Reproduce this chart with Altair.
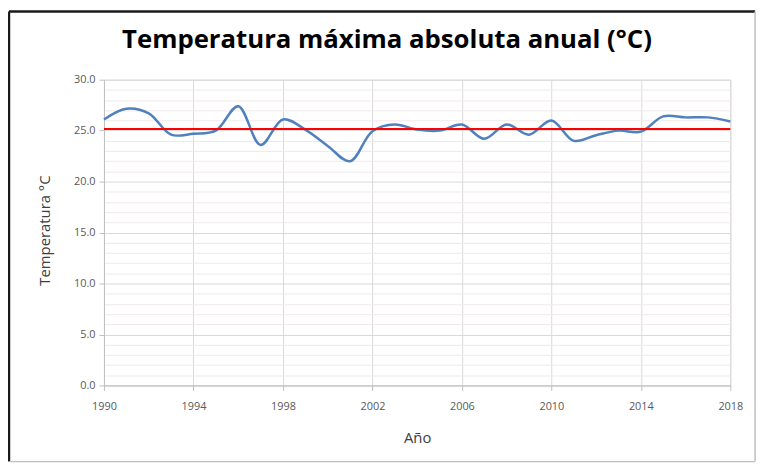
import altair as alt
import pandas as pd

years = list(range(1990, 2019))
temps = [26.1, 27.15, 26.7, 24.6, 24.7, 25.0, 27.4, 23.6, 26.1, 25.1,
         23.5, 22.0, 24.95, 25.6, 25.1, 25.0, 25.6, 24.2, 25.6, 24.6,
         26.0, 24.0, 24.55, 25.0, 24.9, 26.4, 26.3, 26.3, 25.9]
mean_value = [25.15]
x_ticks = [1990, 1994, 1998, 2002, 2006, 2010, 2014, 2018]
y_grid = list(range(0, 31))
title_text = ["Temperatura máxima absoluta anual (°C)"]

df = pd.DataFrame({"year": years, "temp": temps})
mean_df = pd.DataFrame({"temp": mean_value})
title_df = pd.DataFrame({"t": title_text})
one = pd.DataFrame({"a": [0]})

W, H = 633, 309
FONT = "Open Sans"
y_scale = alt.Scale(domain=[0, 30], nice=False)

x_axis = alt.Axis(values=x_ticks, format="d", title="Año", grid=True,
                  gridColor="#d9d9d9", domainColor="#bfbfbf", tickColor="#bfbfbf",
                  tickSize=5, labelFlush=False, labelPadding=10,
                  labelColor="#595959", labelFontSize=11, labelFont=FONT,
                  titleFont=FONT, titleFontSize=15, titleFontWeight="normal",
                  titleColor="#404040", titlePadding=20)
y_axis = alt.Axis(values=y_grid, title="Temperatura °C",
                  labelExpr="datum.value % 5 === 0 ? format(datum.value, '.1f') : ''",
                  labelOverlap=False,
                  gridColor={"condition": {"test": "datum.value % 5 === 0", "value": "#d9d9d9"},
                             "value": "#f1e9e9"},
                  tickColor={"condition": {"test": "datum.value % 5 === 0", "value": "#bfbfbf"},
                             "value": "transparent"},
                  tickSize=5, domainColor="#bfbfbf",
                  labelColor="#595959", labelFontSize=11, labelFont=FONT, labelPadding=4,
                  titleFont=FONT, titleFontSize=15, titleFontWeight="normal",
                  titleColor="#404040", titleX=-60, titleY=152, titleBaseline="middle")

line = alt.Chart(df).mark_line(color="#4F81BD", strokeWidth=2.5, interpolate="catmull-rom").encode(
    x=alt.X("year:Q", scale=alt.Scale(domain=[1990, 2018], nice=False, zero=False), axis=x_axis),
    y=alt.Y("temp:Q", scale=y_scale, axis=y_axis))

rule = alt.Chart(mean_df).mark_rule(color="#FF0000", strokeWidth=2).encode(
    y=alt.Y("temp:Q", scale=y_scale, axis=y_axis))

title = alt.Chart(title_df).mark_text(font=FONT, fontSize=26, fontWeight="bold", color="#000000",
                                      align="center", baseline="alphabetic").encode(
    text="t:N", x=alt.value(286), y=alt.value(-32))

border_dark = alt.Chart(one).mark_rule(color="#1a1a1a", strokeWidth=2.5).encode(
    x=alt.value(-96), x2=alt.value(658), y=alt.value(-69), y2=alt.value(-69))
border_dark2 = alt.Chart(one).mark_rule(color="#1a1a1a", strokeWidth=2.5).encode(
    x=alt.value(-96), x2=alt.value(-96), y=alt.value(-69), y2=alt.value(386))
border_light = alt.Chart(one).mark_rule(color="#bfbfbf", strokeWidth=1.5).encode(
    x=alt.value(658), x2=alt.value(658), y=alt.value(-69), y2=alt.value(386))
border_light2 = alt.Chart(one).mark_rule(color="#bfbfbf", strokeWidth=1.5).encode(
    x=alt.value(-96), x2=alt.value(658), y=alt.value(386), y2=alt.value(386))

chart = alt.layer(line, rule, title, border_dark, border_dark2, border_light, border_light2).properties(
    width=W, height=H,
    autosize=alt.AutoSizeParams(type="none"),
    padding={"left": 97, "top": 70, "right": 31, "bottom": 80},
).configure_view(stroke=None).configure(background="white")

chart.save("out.html", embed_options={"renderer": "svg", "actions": False})
